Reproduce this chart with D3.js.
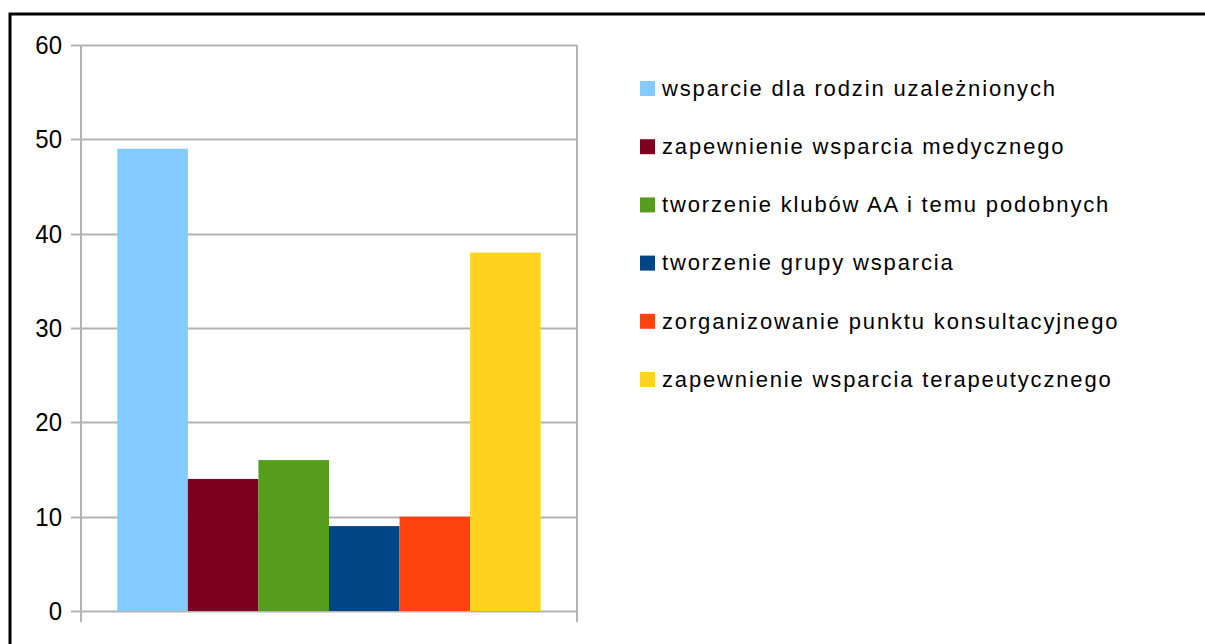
<!DOCTYPE html>
<html><head><meta charset="utf-8">
<script src="https://cdn.jsdelivr.net/npm/d3@7"></script>
<style>body{margin:0;background:#fff}svg{display:block}</style>
</head><body>
<svg id="c" width="1205" height="644"></svg>
<script>
const categories = ["wsparcie dla rodzin uzależnionych","zapewnienie wsparcia medycznego","tworzenie klubów AA i temu podobnych","tworzenie grupy wsparcia","zorganizowanie punktu konsultacyjnego","zapewnienie wsparcia terapeutycznego"];
const values = [49, 14, 16, 9, 10, 38];
const colors = ["#83caff","#7e0021","#579d1c","#004586","#ff420e","#ffd320"];
const yTicks = [0,10,20,30,40,50,60];

const svg = d3.select("#c");
const font = "'Liberation Sans', Arial, sans-serif";
// frame
svg.append("path").attr("d","M10,644 V14 H1205").attr("fill","none").attr("stroke","#000").attr("stroke-width",3);

const x0 = 81, x1 = 577, yTop = 45, yBot = 611;
const y = d3.scaleLinear().domain([0,60]).range([yBot,yTop]);
const xb = d3.scaleBand().domain(d3.range(values.length)).range([x0+36.3, x1-36.3]).padding(0);

// gridlines
svg.append("g").selectAll("line").data(yTicks).join("line")
  .attr("x1",71).attr("x2",x1).attr("y1",d=>Math.round(y(d))+0.5).attr("y2",d=>Math.round(y(d))+0.5)
  .attr("stroke","#b3b3b3").attr("stroke-width",2);

// y axis
const ya = svg.append("g").attr("transform",`translate(${x0},0)`)
  .call(d3.axisLeft(y).tickValues(yTicks).tickSize(0).tickPadding(19));
ya.select(".domain").remove();
ya.selectAll("text").attr("font-family",font).attr("font-size",24).attr("fill","#000")
  .attr("transform","scale(1,1.1)").attr("y",0).attr("dy","0.34em");
ya.selectAll(".tick").each(function(d){
  d3.select(this).attr("transform",`translate(0,${y(d)})`);
});

// vertical axis lines
svg.append("g").selectAll("line").data([x0,x1]).join("line")
  .attr("x1",d=>d).attr("x2",d=>d).attr("y1",yTop).attr("y2",622)
  .attr("stroke","#b3b3b3").attr("stroke-width",2);

// bars
svg.append("g").selectAll("rect").data(values).join("rect")
  .attr("x",(d,i)=>xb(i)).attr("width",xb.bandwidth())
  .attr("y",d=>y(d)).attr("height",d=>yBot-y(d))
  .attr("fill",(d,i)=>colors[i]);

// legend
const lg = svg.append("g").selectAll("g").data(categories).join("g")
  .attr("transform",(d,i)=>`translate(640,${88+i*58.2})`);
lg.append("rect").attr("x",0).attr("y",-7).attr("width",15).attr("height",15).attr("fill",(d,i)=>colors[i]);
lg.append("text").attr("x",22).attr("y",0).attr("dy","0.35em")
  .attr("font-family",font).attr("font-size",22).attr("letter-spacing","1.85px").attr("fill","#000").text(d=>d);
</script>
</body></html>
